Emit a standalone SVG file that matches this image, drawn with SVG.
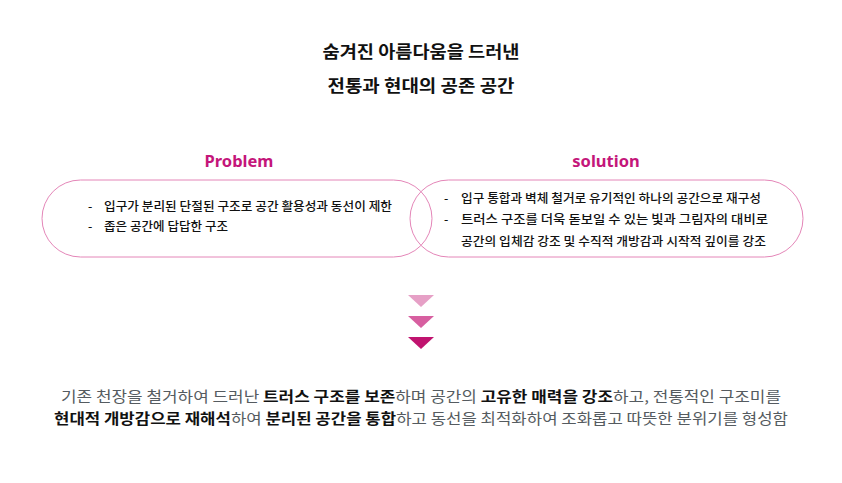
<svg xmlns="http://www.w3.org/2000/svg" width="842" height="483" viewBox="0 0 842 483">
<style>
text{font-family:"Noto Sans CJK KR","Noto Sans",sans-serif;}
.title{font-size:17px;font-weight:700;fill:#111;text-anchor:middle;}
.head{font-family:"Noto Sans","Noto Sans CJK KR",sans-serif;font-size:16.5px;font-weight:700;fill:#c4167a;text-anchor:middle;}
.item{font-size:12px;font-weight:500;fill:#111;}
.pill{fill:none;stroke:#e486b8;stroke-width:1;}
.body{font-size:14.4px;fill:#555b60;text-anchor:middle;}
.b{font-weight:700;fill:#111;}
</style>
<rect width="842" height="483" fill="#fff"/>
<g id="title">
<text class="title" x="421" y="58" textLength="197" lengthAdjust="spacingAndGlyphs">숨겨진 아름다움을 드러낸</text>
<text class="title" x="421" y="92" textLength="187" lengthAdjust="spacingAndGlyphs">전통과 현대의 공존 공간</text>
</g>
<g id="problem">
<text class="head" x="239" y="167">Problem</text>
<rect class="pill" x="42" y="180" width="390" height="77" rx="38.5"/>
<text class="item" x="88" y="211">-</text>
<text class="item" x="104" y="211" textLength="288" lengthAdjust="spacingAndGlyphs">입구가 분리된 단절된 구조로 공간 활용성과 동선이 제한</text>
<text class="item" x="88" y="231">-</text>
<text class="item" x="104" y="231" textLength="124" lengthAdjust="spacingAndGlyphs">좁은 공간에 답답한 구조</text>
</g>
<g id="solution">
<text class="head" x="606" y="167">solution</text>
<rect class="pill" x="410" y="180" width="393" height="77" rx="38.5"/>
<text class="item" x="444" y="203">-</text>
<text class="item" x="461" y="203" textLength="300" lengthAdjust="spacingAndGlyphs">입구 통합과 벽체 철거로 유기적인 하나의 공간으로 재구성</text>
<text class="item" x="444" y="224">-</text>
<text class="item" x="461" y="224" textLength="307" lengthAdjust="spacingAndGlyphs">트러스 구조를 더욱 돋보일 수 있는 빛과 그림자의 대비로</text>
<text class="item" x="461" y="246" textLength="305" lengthAdjust="spacingAndGlyphs">공간의 입체감 강조 및 수직적 개방감과 시작적 깊이를 강조</text>
</g>
<g id="arrows">
<polygon points="408,295 434,295 421,307" fill="#e6a0c6"/>
<polygon points="408,316 434,316 421,328" fill="#d75fa0"/>
<polygon points="408,337 434,337 421,349" fill="#c0136f"/>
</g>
<g id="summary">
<text class="body" x="421" y="402" textLength="720" lengthAdjust="spacingAndGlyphs">기존 천장을 철거하여 드러난 <tspan class="b">트러스 구조를 보존</tspan>하며 공간의 <tspan class="b">고유한 매력을 강조</tspan>하고, 전통적인 구조미를</text>
<text class="body" x="421" y="424" textLength="734" lengthAdjust="spacingAndGlyphs"><tspan class="b">현대적 개방감으로 재해석</tspan>하여  <tspan class="b">분리된 공간을 통합</tspan>하고 동선을 최적화하여 조화롭고 따뜻한 분위기를 형성함</text>
</g>
</svg>
